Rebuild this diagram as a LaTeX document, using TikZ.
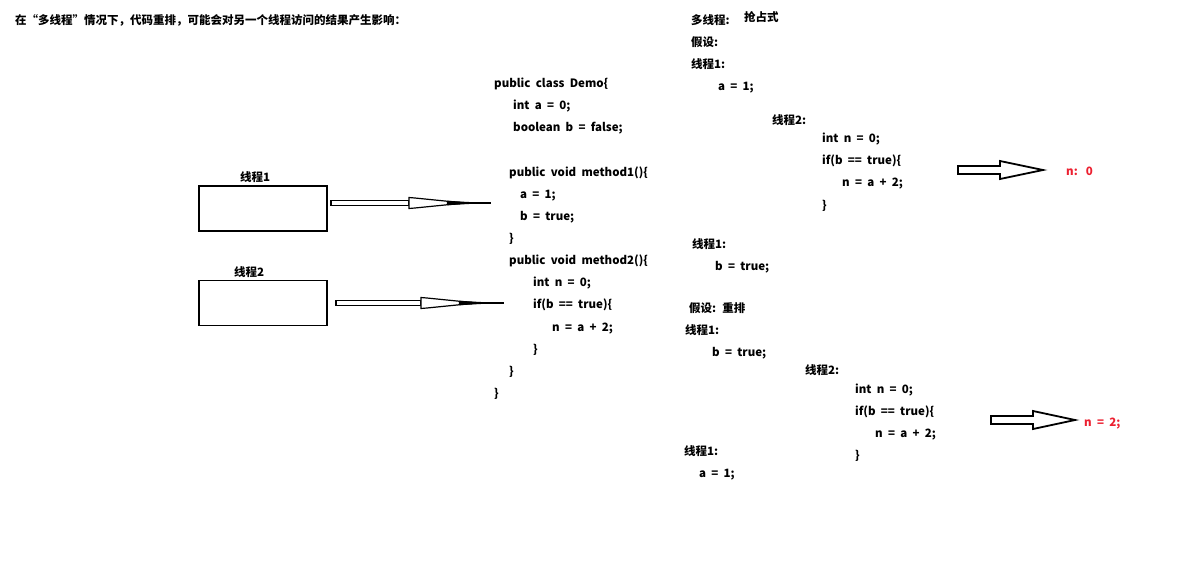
\documentclass[tikz,border=0pt]{standalone}
\usepackage{fontspec}
\setmainfont{Noto Sans CJK SC}[WordSpace=2]
\usetikzlibrary{calc}
\definecolor{resred}{RGB}{236,32,48}
\tikzset{
  txt/.style={anchor=west, inner sep=0pt, text height=9pt, text depth=2.5pt, yshift=-2pt, font=\bfseries\fontsize{11.5}{12}\selectfont},
  res/.style={txt, text=resred},
  threadbox/.style={draw, line width=1.8pt, minimum width=128pt, minimum height=45pt, inner sep=0pt},
  outl/.style={draw, fill=white, line width=1.2pt, line join=miter},
  bigarrow/.style={draw, fill=white, line width=1.8pt, line join=miter}
}
% thin hand-drawn arrow: #1 shaft length, #2 total length
\newcommand{\thinarrowshape}[2]{%
  \path[outl] (0,-2.5) rectangle (#1,2.5);
  \path[outl] (#1,-5.5) -- ++(6,0.5) -- ++(32,3.2) -- ++(14,1.2) -- ++(0,1.2)
     -- ++(-14,1.2) -- ++(-32,3.2) -- ++(-6,0.5) -- cycle;
  \fill (#1+38,-2.2) -- (#1+60,-1) -- (#1+60,1) -- (#1+38,2.2) -- cycle;
  \draw[line width=1.4pt] (#1+58,0) -- (#2,0);
}
% hollow block arrow: #1 shaft length, #2 total length
\newcommand{\blockarrowshape}[2]{%
  \path[bigarrow] (0,-4) -- (#1,-4) -- (#1,-9) -- (#2,0) -- (#1,9) -- (#1,4) -- (0,4) -- cycle;
}
\begin{document}
\begin{tikzpicture}[x=1pt, y=-1pt]
\useasboundingbox (0,0) rectangle (1192,574);

% heading
\node[txt] (title) at (15,19) {在“多线程”情况下，代码重排，可能会对另一个线程访问的结果产生影响：};

% the two threads
\node[threadbox] (t1) at (263,208.5) {};
\node[txt, anchor=center] (t1l) at (255,176) {线程1};
\node[threadbox] (t2) at (263,303) {};
\node[txt, anchor=center] (t2l) at (249,271) {线程2};

% class source
\node[txt] (c1) at (494,82) {public class Demo\{};
\node[txt] (c2) at (513,104) {int a = 0;};
\node[txt] (c3) at (513,126) {boolean b = false;};
\node[txt] (c4) at (509,171) {public void method1()\{};
\node[txt] (c5) at (520,193) {a = 1;};
\node[txt] (c6) at (520,215) {b = true;};
\node[txt] (c7) at (509,237) {\}};
\node[txt] (c8) at (509,259) {public void method2()\{};
\node[txt] (c9) at (533,281) {int n = 0;};
\node[txt] (c10) at (533,303) {if(b == true)\{};
\node[txt] (c11) at (552,326) {n = a + 2;};
\node[txt] (c12) at (533,348) {\}};
\node[txt] (c13) at (509,370) {\}};
\node[txt] (c14) at (494,392) {\}};

% threads calling the methods
\begin{scope}[shift={($(t1.east)+(3,-5.5)$)}]
  \thinarrowshape{78}{160}
\end{scope}
\begin{scope}[shift={($(t2.east)+(8,0)$)}]
  \thinarrowshape{85}{168}
\end{scope}

% case 1: preemptive scheduling
\node[txt] (p1) at (691,19) {多线程:};
\node[txt] (p1b) at (744,16) {抢占式};
\node[txt] (p2) at (691,41) {假设:};
\node[txt] (p3) at (691,63) {线程1:};
\node[txt] (p4) at (718,85) {a = 1;};
\node[txt] (p5) at (772,119) {线程2:};
\node[txt] (p6) at (822,137) {int n = 0;};
\node[txt] (p7) at (822,159) {if(b == true)\{};
\node[txt] (p8) at (842,181) {n = a + 2;};
\node[txt] (p9) at (822,204) {\}};
\node[txt] (p10) at (692,243) {线程1:};
\node[txt] (p11) at (715,265) {b = true;};
\coordinate (a1) at (958,170);
\node[res] (r1) at (1066,170) {n:\kern2pt{} 0};
\begin{scope}[shift={(a1)}]
  \blockarrowshape{42}{85}
\end{scope}

% case 2: reordered
\node[txt] (q1) at (689,307) {假设: 重排};
\node[txt] (q2) at (685,329) {线程1:};
\node[txt] (q3) at (712,351) {b = true;};
\node[txt] (q4) at (805,369) {线程2:};
\node[txt] (q5) at (855,388) {int n = 0;};
\node[txt] (q6) at (855,410) {if(b == true)\{};
\node[txt] (q7) at (875,432) {n = a + 2;};
\node[txt] (q8) at (855,454) {\}};
\node[txt] (q9) at (684,450) {线程1:};
\node[txt] (q10) at (699,472) {a = 1;};
\coordinate (a2) at (991,420);
\node[res] (r2) at (1084,421) {n = 2;};
\begin{scope}[shift={(a2)}]
  \blockarrowshape{42}{84}
\end{scope}
\end{tikzpicture}
\end{document}
